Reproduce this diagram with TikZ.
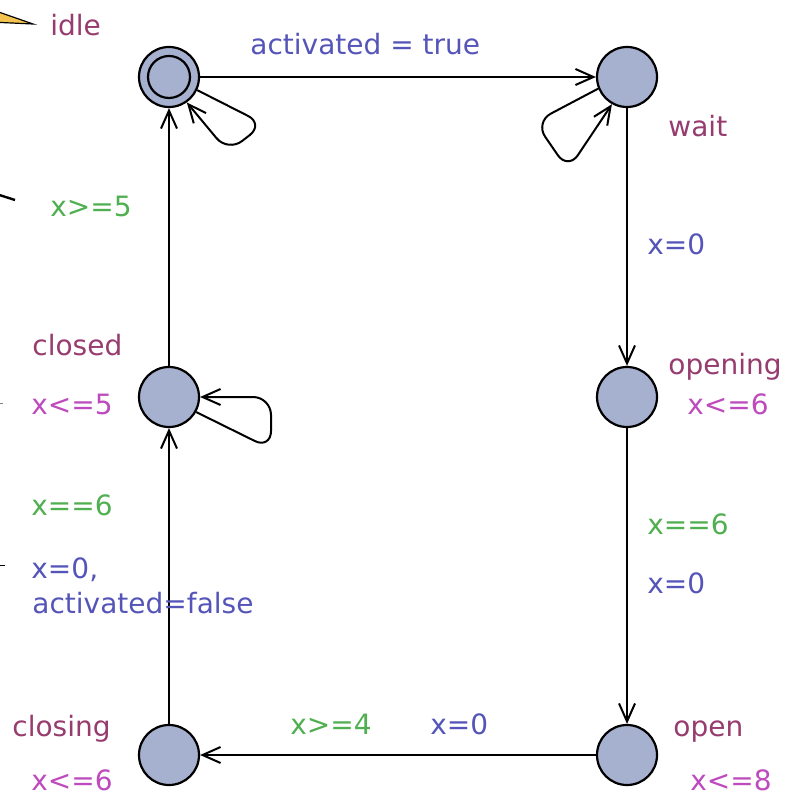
\documentclass[tikz,border=0pt]{standalone}
\usepackage{fontspec}
\setmainfont{DejaVu Sans}
\usetikzlibrary{arrows.meta}

\definecolor{locname}{RGB}{150,60,110}
\definecolor{guardcol}{RGB}{80,175,80}
\definecolor{updcol}{RGB}{85,85,185}
\definecolor{invcol}{RGB}{190,75,190}
\definecolor{locfill}{RGB}{166,176,207}
\definecolor{notefill}{RGB}{245,195,80}

\tikzset{
  loc/.style={circle,draw,line width=1.1pt,fill=locfill,minimum size=30pt,inner sep=0pt},
  trans/.style={line width=1pt,-{Straight Barb[length=9pt,width=8pt]}},
  lbl/.style={font=\fontsize{14}{16}\selectfont,anchor=base west,inner sep=0pt},
  namelbl/.style={lbl,text=locname},
  guardlbl/.style={lbl,text=guardcol},
  updlbl/.style={lbl,text=updcol},
  invlbl/.style={lbl,text=invcol}
}

\begin{document}
\begin{tikzpicture}[x=0.5pt,y=-0.5pt]
\useasboundingbox (0,0) rectangle (794,795);

\node[loc] (idle) at (169,77) {};
\draw[line width=1.1pt] (idle.center) circle[radius=10.5pt];

\node[loc] (wait) at (627,77) {};

\node[loc] (opening) at (627,397) {};

\node[loc] (open) at (627,755) {};

\node[loc] (closing) at (169,755) {};

\node[loc] (closed) at (169,397) {};

\draw[trans] (idle) -- (wait);
\draw[trans] (wait) -- (opening);
\draw[trans] (opening) -- (open);
\draw[trans] (open) -- (closing);
\draw[trans] (closing) -- (closed);
\draw[trans] (closed) -- (idle);

\coordinate (il1) at (264,124);
\coordinate (il2) at (228,152);
\draw[trans,rounded corners=9pt] (idle.-25) -- (il1) -- (il2) -- (idle.-55);

\coordinate (wl1) at (535,122);
\coordinate (wl2) at (568,170);
\draw[trans,rounded corners=9pt] (wait.202) -- (wl1) -- (wl2) -- (wait.241);

\coordinate (cl1) at (271,449);
\coordinate (cl2) at (271,397);
\draw[trans,rounded corners=9pt] (closed.-29) -- (cl1) -- (cl2) -- (closed.east);

\node[namelbl] (idlename) at (50,36) {idle};
\node[namelbl] (waitname) at (668,137) {wait};
\node[namelbl] (openingname) at (668,375) {opening};
\node[namelbl] (openname) at (673,736) {open};
\node[namelbl] (closingname) at (12,736) {closing};
\node[namelbl] (closedname) at (32,356) {closed};

\node[invlbl] (openinginv) at (687,415) {x<=6};
\node[invlbl] (openinv) at (690,790) {x<=8};
\node[invlbl] (closinginv) at (31,790) {x<=6};
\node[invlbl] (closedinv) at (31,415) {x<=5};

\node[updlbl] (actupd) at (250,55) {activated = true};
\node[updlbl] (waitupd) at (647,255) {x=0};
\node[guardlbl] (openguard) at (647,534) {x==6};
\node[updlbl] (openupd) at (647,593) {x=0};
\node[guardlbl] (closeguard) at (290,734) {x>=4};
\node[updlbl] (closeupd) at (430,734) {x=0};
\node[guardlbl] (closedguard) at (31,515) {x==6};
\node[updlbl] (closedupda) at (31,578) {x=0,};
\node[updlbl] (closedupdb) at (32,613) {activated=false};
\node[guardlbl] (idleguard) at (50,217) {x>=5};

\filldraw[fill=notefill,line width=0.6pt] (-10,9) -- (33,24) -- (-10,22) -- cycle;
\draw[line width=1.2pt] (-10,192) -- (15,200);
\draw[gray] (-5,403) -- (3,403);
\draw (-5,565) -- (5,565);

\end{tikzpicture}
\end{document}
